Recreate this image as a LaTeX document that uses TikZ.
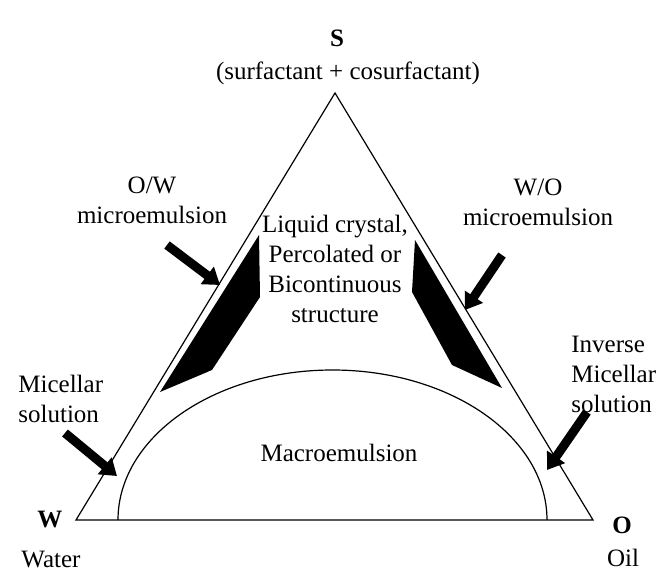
\documentclass[tikz,border=0pt]{standalone}
\usepackage{fontspec}
\setmainfont{Liberation Serif}
\usepackage{tikz}
\usetikzlibrary{arrows.meta}

\begin{document}
\begin{tikzpicture}[x=0.5pt, y=-0.5pt,
    txt/.style={font=\fontsize{12.5}{15}\selectfont, inner sep=0pt, align=center},
    cornertxt/.style={font=\fontsize{12.5}{15}\selectfont\bfseries, inner sep=0pt},
    fatarrow/.style={line width=4.5pt, -{Triangle[length=8pt, width=10.5pt]}},
    edgeline/.style={line width=0.6pt}]
    \useasboundingbox (0,0) rectangle (659,583);
    \coordinate (S) at (335,93);
    \coordinate (W) at (76,520);
    \coordinate (O) at (593,520);
    \coordinate (arcL) at (118,520);
    \draw[edgeline] (S) -- (W) -- (O) -- cycle;
    \draw[edgeline] (arcL) arc[start angle=180, end angle=0, x radius=107.25pt, y radius=75pt];
    \fill (259,235) -- (260,297) -- (212,370) -- (160,392) -- cycle;
    \fill (415,240) -- (412,292) -- (452,365) -- (502,388) -- cycle;
    \node[cornertxt] (slabel) at (337,38) {S};
    \node[txt] (surf) at (348,73) {(surfactant + cosurfactant)};
    \node[cornertxt] (wlabel) at (50,520) {W};
    \node[txt] (water) at (51,560) {Water};
    \node[cornertxt] (olabel) at (622,525) {O};
    \node[txt] (oil) at (623,558) {Oil};
    \node[txt] (ow) at (152,200) {O/W\\microemulsion};
    \node[txt] (wo) at (538,202) {W/O\\microemulsion};
    \node[txt] (lc) at (335,269) {Liquid crystal,\\Percolated or\\Bicontinuous\\structure};
    \node[txt] (macro) at (339,453) {Macroemulsion};
    \node[txt, align=left, anchor=west] (mic) at (18,399) {Micellar\\solution};
    \node[txt, align=left, anchor=west] (invmic) at (571,374) {Inverse\\Micellar\\solution};
    \coordinate (owtail) at (167,245);
    \coordinate (owtip) at (220,285);
    \coordinate (wotail) at (502,255);
    \coordinate (wotip) at (465,310);
    \coordinate (mictail) at (65,433);
    \coordinate (mictip) at (117,476);
    \coordinate (invtail) at (587,412);
    \coordinate (invtip) at (547,470);
    \draw[fatarrow] (owtail) -- (owtip);
    \draw[fatarrow] (wotail) -- (wotip);
    \draw[fatarrow] (mictail) -- (mictip);
    \draw[fatarrow] (invtail) -- (invtip);
\end{tikzpicture}
\end{document}
